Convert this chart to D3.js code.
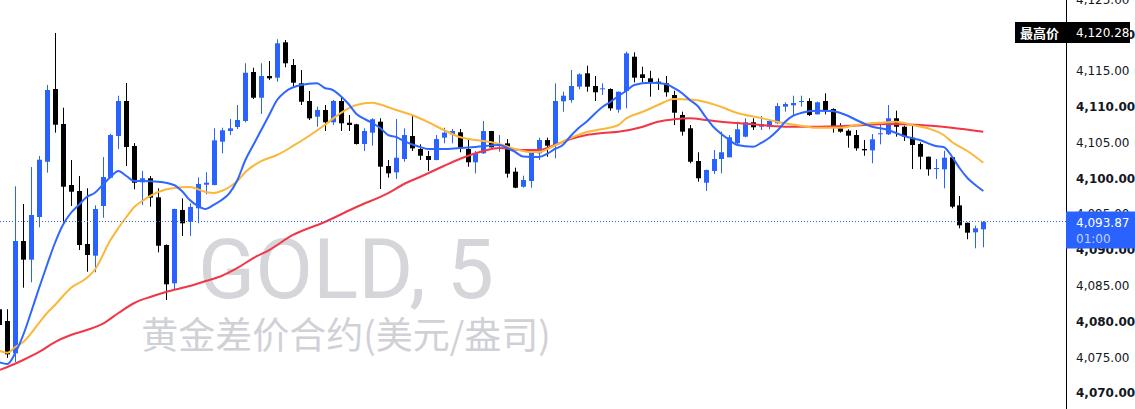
<!DOCTYPE html>
<html><head><meta charset="utf-8">
<script src="https://cdn.jsdelivr.net/npm/d3@7"></script>
<style>html,body{margin:0;padding:0;background:#fff;overflow:hidden}</style>
</head><body><svg id="c" width="1135" height="409"></svg>
<script>
// ---- DATA ----
const opens = [4081.69,4080.06,4075.54,4091.23,4088.62,4094.58,4102.30,4112.46,4107.57,4099.05,
4098.21,4090.81,4089.18,4096.12,4100.07,4105.89,4110.78,4104.50,4099.43,4099.99,
4097.33,4090.67,4085.32,4095.56,4093.93,4095.80,4099.09,4099.05,4105.10,4106.59,
4107.15,4107.99,4114.83,4111.24,4114.27,4114.04,4118.98,4115.81,4113.25,4110.78,
4108.59,4109.53,4107.81,4110.78,4107.75,4107.53,4104.78,4106.36,4107.89,4101.70,
4100.82,4102.68,4105.89,4104.08,4103.10,4102.54,4105.66,4106.13,4106.41,4104.08,
4102.22,4103.48,4106.59,4104.50,4104.87,4100.91,4098.81,4099.61,4103.48,4105.33,
4104.64,4110.74,4110.92,4112.78,4114.65,4112.88,4112.42,4112.46,4109.57,4112.18,
4116.97,4114.51,4113.95,4113.48,4113.25,4111.62,4108.83,4106.97,4102.40,4099.37,
4101.01,4102.68,4102.92,4104.87,4105.80,4107.81,4107.19,4107.19,4107.67,4109.99,
4110.18,4110.64,4110.78,4108.92,4110.78,4109.66,4107.29,4106.63,4106.03,4104.08,
4103.89,4106.13,4106.13,4108.37,4107.19,4105.66,4104.78,4103.00,4101.28,4101.24,
4102.92,4096.21,4093.78,4092.44,4092.86];
const highs = [4082.00,4081.70,4098.87,4096.40,4101.56,4103.10,4113.02,4120.28,4109.85,4102.54,
4100.31,4098.59,4096.21,4102.96,4106.20,4111.52,4113.30,4104.90,4101.01,4100.31,
4098.59,4090.77,4095.74,4097.19,4096.49,4100.12,4100.82,4106.97,4107.05,4108.27,
4110.22,4116.05,4115.43,4116.05,4116.37,4119.40,4119.30,4116.65,4115.11,4112.18,
4109.99,4110.22,4110.92,4111.48,4108.83,4107.60,4106.97,4108.37,4108.37,4102.54,
4108.27,4106.97,4108.73,4104.73,4103.80,4106.03,4107.05,4106.87,4106.87,4105.47,
4103.80,4107.99,4106.60,4106.03,4105.47,4101.47,4100.35,4103.80,4105.66,4105.66,
4113.25,4112.08,4115.11,4114.65,4115.71,4114.27,4113.25,4112.55,4112.10,4117.67,
4117.58,4115.57,4115.01,4113.95,4114.27,4112.22,4109.29,4107.43,4103.62,4101.20,
4103.94,4106.50,4106.03,4107.89,4108.37,4108.37,4108.69,4108.23,4110.50,4110.60,
4111.52,4111.52,4111.16,4110.70,4111.86,4109.76,4107.67,4106.83,4106.73,4105.33,
4106.17,4107.57,4110.22,4109.43,4107.33,4107.33,4105.00,4103.00,4102.68,4103.84,
4102.92,4097.51,4093.80,4093.37,4094.02];
const lows = [4079.30,4074.90,4074.33,4084.71,4085.46,4093.14,4100.77,4106.36,4093.74,4096.12,
4089.97,4086.94,4086.86,4094.48,4100.00,4104.08,4101.70,4098.45,4096.26,4096.02,
4089.65,4082.99,4084.53,4091.93,4091.93,4093.70,4097.75,4099.00,4103.48,4106.03,
4106.87,4107.80,4111.06,4108.97,4113.70,4113.48,4115.49,4112.78,4110.22,4108.13,
4107.19,4106.59,4107.43,4106.59,4106.59,4104.70,4103.80,4104.54,4098.49,4100.07,
4099.89,4102.30,4103.80,4102.54,4101.01,4102.50,4104.87,4104.87,4103.62,4101.61,
4100.68,4103.40,4104.30,4103.70,4100.07,4098.60,4098.67,4098.67,4102.54,4103.00,
4102.78,4109.29,4110.54,4112.42,4112.08,4110.78,4111.62,4109.43,4109.15,4109.76,
4113.39,4113.39,4111.38,4112.32,4111.38,4107.43,4105.94,4102.08,4099.51,4098.22,
4100.59,4100.68,4102.90,4104.64,4105.70,4106.73,4106.73,4106.83,4107.60,4109.29,
4108.83,4109.99,4108.69,4108.90,4108.92,4106.36,4106.36,4104.26,4103.84,4103.14,
4102.08,4104.73,4106.03,4105.80,4105.20,4101.28,4101.24,4100.35,4099.89,4098.59,
4095.80,4093.00,4091.47,4090.21,4090.35];
const closes = [4079.50,4075.40,4091.23,4088.62,4094.86,4102.58,4112.32,4107.47,4098.81,4098.11,
4090.67,4089.27,4095.70,4100.17,4106.03,4110.78,4104.36,4099.37,4099.99,4097.28,
4090.57,4085.18,4095.70,4093.70,4095.98,4099.19,4099.37,4105.29,4106.69,4106.97,
4108.13,4114.73,4111.24,4114.27,4113.95,4118.84,4116.05,4113.34,4110.68,4108.36,
4109.53,4107.81,4110.78,4107.67,4107.43,4104.78,4106.59,4108.23,4101.61,4100.68,
4102.86,4106.03,4104.17,4103.14,4102.54,4105.47,4106.36,4106.59,4104.17,4102.22,
4103.48,4106.59,4104.31,4104.64,4100.63,4098.67,4099.75,4103.62,4105.33,4104.54,
4110.78,4111.52,4112.88,4114.51,4112.78,4112.00,4112.55,4109.76,4112.08,4117.44,
4114.04,4114.00,4113.39,4113.30,4112.00,4109.15,4106.50,4102.30,4099.99,4101.15,
4102.68,4103.62,4105.71,4106.83,4107.81,4107.11,4107.57,4107.99,4110.08,4110.36,
4110.50,4110.78,4108.83,4110.60,4109.43,4107.19,4106.50,4105.94,4104.17,4103.89,
4105.43,4106.27,4108.37,4107.19,4105.80,4104.64,4103.00,4101.24,4101.42,4102.86,
4096.02,4093.42,4092.39,4093.00,4093.87];

// moving-average lines (candle index, value)
const maFastIdx = [0,1,2,3,4,5,6,7,8,9,10,11,12,13,14,15,16,17,18,20,22,23,24,25,26,27,28,29,30,31,32,33,34,35,36,38,40,41,42,43,44,45,46,47,48,49,50,51,53,54,56,58,60,63,64,65,66,68,69,70,71,72,73,74,75,76,77,78,79,80,82,84,85,86,87,88,89,90,91,92,93,95,96,97,98,99,100,101,103,105,106,107,108,110,112,113,114,116,118,119,120,121,122,123,124];
const maFast = [4074.29,4074.05,4075.59,4078.10,4081.31,4084.66,4087.88,4090.95,4093.46,4095.14,4096.26,4097.37,4097.93,4099.05,4100.17,4101.00,4100.31,4099.61,4099.61,4099.51,4099.05,4098.21,4096.95,4096.12,4095.70,4096.26,4096.95,4097.93,4099.75,4102.54,4104.64,4106.73,4108.83,4110.92,4112.04,4113.02,4113.25,4112.60,4112.32,4111.48,4110.36,4108.97,4108.27,4107.71,4107.01,4106.03,4105.75,4105.19,4104.36,4104.08,4104.08,4104.22,4104.36,4104.64,4104.22,4103.66,4103.03,4102.96,4103.38,4104.08,4104.64,4105.89,4107.01,4107.89,4108.97,4109.94,4110.64,4111.48,4112.18,4113.02,4113.34,4113.15,4112.60,4111.90,4110.92,4110.08,4108.55,4107.15,4106.17,4105.33,4104.64,4104.40,4104.92,4105.61,4106.59,4107.85,4108.69,4109.10,4109.43,4109.38,4109.10,4108.69,4108.13,4107.19,4106.73,4106.31,4105.89,4105.33,4104.50,4104.36,4103.10,4101.42,4100.03,4099.05,4098.21];
const maMidIdx = [0,1,2,3,5,6,7,9,11,12,14,15,16,17,18,20,22,24,26,27,28,29,30,31,33,35,37,39,41,43,45,47,48,50,52,54,56,58,61,63,65,67,68,70,72,74,76,78,79,81,83,85,87,89,91,93,96,98,101,103,106,108,111,113,115,117,119,120,122,124];
const maMid = [4075.87,4075.63,4076.42,4077.12,4079.78,4081.17,4082.29,4084.66,4086.06,4087.18,4091.37,4093.04,4094.58,4095.98,4096.81,4098.07,4098.63,4098.77,4098.07,4097.93,4098.21,4098.77,4099.61,4100.86,4102.40,4103.24,4104.50,4105.89,4107.43,4109.10,4110.22,4110.54,4110.29,4109.52,4108.83,4107.85,4106.73,4105.75,4105.19,4104.78,4104.08,4103.66,4103.66,4104.57,4105.61,4106.45,4106.87,4107.43,4108.36,4109.24,4110.22,4111.06,4110.99,4110.64,4109.94,4109.10,4108.41,4107.89,4107.33,4107.05,4107.05,4107.43,4107.75,4107.89,4107.43,4106.97,4106.03,4105.10,4103.80,4102.16];
const maSlowIdx = [0,1,3,5,7,9,11,13,15,17,19,21,24,26,28,30,32,34,37,41,45,49,51,53,56,58,61,63,66,68,70,72,74,76,78,81,83,85,87,89,92,95,99,103,108,112,116,120,124];
const maSlow = [4073.21,4073.63,4074.61,4075.73,4077.12,4078.10,4078.80,4079.64,4081.17,4082.57,4083.41,4084.11,4084.94,4085.64,4086.34,4087.46,4088.85,4089.97,4092.07,4093.88,4095.98,4097.93,4099.19,4100.17,4101.70,4102.68,4103.80,4104.22,4103.94,4103.94,4104.64,4105.47,4106.03,4106.31,4106.49,4107.15,4107.89,4108.22,4108.36,4108.13,4107.78,4107.53,4107.19,4107.19,4107.36,4107.57,4107.43,4107.05,4106.49];

const yTicks = [4070,4075,4080,4085,4090,4095,4100,4105,4110,4115,4120,4125];
const symbolText = "GOLD, 5";
const subtitleText = "黄金差价合约(美元/盎司)";
const highLabel = "最高价";
const highValue = 4120.28;
const lastPrice = 4093.87;
const lastTime = "01:00";

// ---- DRAW ----
const W = 1135, H = 409, axisX = 1066;
const AXFONT = "'DejaVu Sans', Verdana, sans-serif";
const svg = d3.select("#c");
const x = d3.scaleLinear().domain([0, opens.length - 1]).range([-0.6, 983.3]);
const y = d3.scaleLinear().domain([4070, 4120]).range([393, 35]);
const fmt = d3.format(",.2f");
const BLUE = "#2962ff", BLACK = "#000000";

// watermark
svg.append("text").attr("x", 346).attr("y", 298).attr("text-anchor", "middle")
  .attr("font-family", "Roboto, 'Liberation Sans', sans-serif").attr("font-size", 84)
  .attr("fill", "#d5d6da").text(symbolText);
svg.append("text").attr("x", 346).attr("y", 333).attr("text-anchor", "middle")
  .attr("dominant-baseline", "central")
  .attr("font-family", "'Noto Sans CJK SC', sans-serif").attr("font-size", 37)
  .attr("fill", "#d0d1d6").text(subtitleText);

// candles
const data = opens.map((o, i) => ({i, o, h: highs[i], l: lows[i], c: closes[i]}));
const g = svg.append("g");
const cg = g.selectAll("g.c").data(data).join("g")
  .attr("fill", d => d.c >= d.o ? BLUE : BLACK)
  .attr("stroke", d => d.c >= d.o ? BLUE : BLACK);
cg.append("line")
  .attr("x1", d => Math.round(x(d.i)) + 0.5).attr("x2", d => Math.round(x(d.i)) + 0.5)
  .attr("y1", d => y(d.h)).attr("y2", d => y(d.l)).attr("stroke-width", 1);
cg.append("rect")
  .attr("x", d => Math.round(x(d.i)) - 2).attr("width", 5)
  .attr("y", d => y(Math.max(d.o, d.c)))
  .attr("height", d => Math.max(1, Math.abs(y(d.o) - y(d.c))))
  .attr("stroke", "none");

// moving averages
function drawMA(idx, vals, color) {
  const pts = idx.map((k, j) => [x(k), y(vals[j])]);
  svg.append("path").attr("d", d3.line().curve(d3.curveMonotoneX)(pts))
    .attr("fill", "none").attr("stroke", color).attr("stroke-width", 2)
    .attr("stroke-linejoin", "round");
}
drawMA(maSlowIdx, maSlow, "#f23645");
drawMA(maMidIdx, maMid, "#fbb73a");
drawMA(maFastIdx, maFast, "#2f66ff");

// last price dotted line
const yl = Math.round(y(lastPrice)) - 0.5;
svg.append("line").attr("x1", 0).attr("x2", axisX).attr("y1", yl).attr("y2", yl)
  .attr("stroke", BLUE).attr("stroke-width", 1).attr("stroke-dasharray", "1,2");

// right axis
const ax = svg.append("g").attr("transform", `translate(${axisX},0)`)
  .call(d3.axisRight(y).tickValues(yTicks).tickSize(0).tickPadding(10).tickFormat(fmt));
ax.select(".domain").remove();
ax.selectAll("text").attr("font-family", AXFONT)
  .attr("font-size", 12).attr("fill", "#131722")
  .attr("font-weight", d => d % 10 === 0 ? 700 : 400);
svg.append("line").attr("x1", axisX + 0.5).attr("x2", axisX + 0.5).attr("y1", 0).attr("y2", H)
  .attr("stroke", "#000").attr("stroke-width", 1);

// highest price label
const yh = y(highValue);
svg.append("rect").attr("x", 1015).attr("y", Math.round(yh) - 11).attr("width", 115).attr("height", 21).attr("fill", "#000");
svg.append("text").attr("x", 1020).attr("y", yh).attr("dominant-baseline", "central")
  .attr("font-family", "'Noto Sans CJK SC', sans-serif").attr("font-weight", 700).attr("font-size", 13)
  .attr("fill", "#fff").text(highLabel);
svg.append("text").attr("x", axisX + 10).attr("y", yh).attr("dominant-baseline", "central")
  .attr("font-family", AXFONT).attr("font-size", 12)
  .attr("fill", "#fff").text(fmt(highValue));

// last price label
svg.append("rect").attr("x", axisX).attr("y", yl - 10).attr("width", W - axisX).attr("height", 37).attr("fill", BLUE);
svg.append("text").attr("x", axisX + 10).attr("y", yl + 1).attr("dominant-baseline", "central")
  .attr("font-family", AXFONT).attr("font-size", 12)
  .attr("fill", "#fff").text(fmt(lastPrice));
svg.append("text").attr("x", axisX + 10).attr("y", yl + 17).attr("dominant-baseline", "central")
  .attr("font-family", AXFONT).attr("font-size", 12)
  .attr("fill", "#c5d2ff").text(lastTime);
</script></body></html>
